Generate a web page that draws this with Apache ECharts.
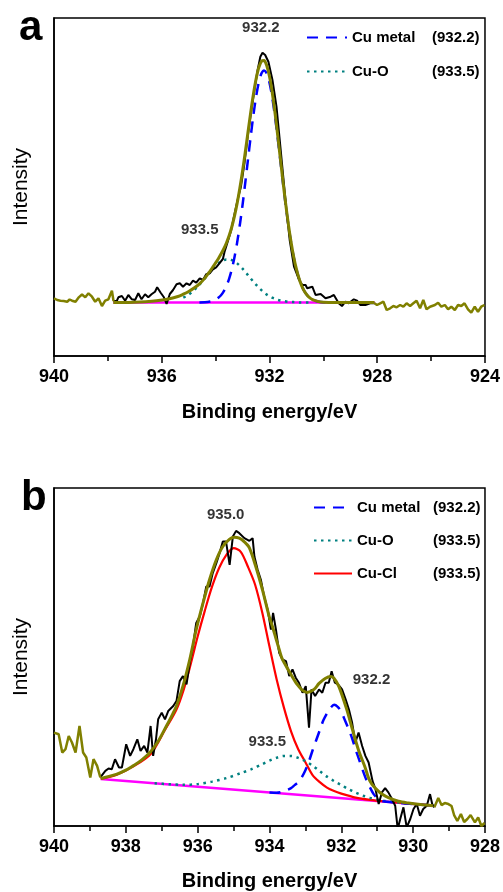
<!DOCTYPE html>
<html>
<head>
<meta charset="utf-8">
<script src="https://cdn.jsdelivr.net/npm/echarts@6/dist/echarts.min.js"></script>
<style>
html,body{margin:0;padding:0;background:#fff;}
#chart{width:503px;height:892px;}
</style>
</head>
<body>
<div id="chart"></div>
<script>
// ---------- Panel a data (binding energy eV, intensity a.u.) ----------
const aTicks = [940, 936, 932, 928, 924];
const aBgLeft = [[940.0,57.7],[939.88,56],[939.76,55.3],[939.64,55],[939.51,54.3],[939.42,56.5],[939.33,55.3],[939.2,54.3],[939.08,58.7],[938.96,61.7],[938.84,58.7],[938.72,62.7],[938.59,59.3],[938.47,54.3],[938.35,57.7],[938.22,50],[938.1,55.3],[937.98,56.7],[937.85,65.3],[937.79,55]];
const aMeasured = [[937.79,55],[937.67,55],[937.61,58.7],[937.48,60],[937.36,55.3],[937.24,61],[937.11,56.7],[936.99,56],[936.87,62.7],[936.75,56.7],[936.62,61.7],[936.5,58.7],[936.38,61.7],[936.25,64.3],[936.17,68.7],[936.04,63.3],[935.92,58.7],[935.82,52],[935.7,62],[935.58,66],[935.45,71.7],[935.33,72.7],[935.21,69.3],[935.08,72.7],[934.96,71],[934.84,75.3],[934.72,73.3],[934.59,77.7],[934.47,76],[934.35,81.7],[934.22,82.7],[934.1,86.7],[933.98,88.7],[933.86,92.7],[933.73,97],[933.67,104],[933.61,102],[933.52,117],[933.42,126],[933.33,138],[933.24,149.3],[933.15,160],[933.06,169.3],[932.93,192.7],[932.81,219.3],[932.69,242.7],[932.56,266],[932.44,286],[932.34,299.3],[932.26,303.3],[932.16,301],[932.04,294.3],[931.89,276],[931.74,249.3],[931.62,216],[931.49,179.3],[931.37,146],[931.25,116],[931.09,89.3],[930.9,76],[930.78,71],[930.66,71],[930.6,67.7],[930.53,67.7],[930.41,69.3],[930.29,61],[930.1,62],[929.92,57.7],[929.73,59.3],[929.61,61],[929.43,52.7],[929.31,50],[929.18,54.3],[929.06,52.7],[928.87,56.7],[928.75,55.3],[928.63,51],[928.44,51],[928.26,52.7],[928.1,52.7]];
const aBgRight = [[928.1,52.7],[928.01,51],[927.89,52.7],[927.77,54.3],[927.65,46],[927.52,47.7],[927.4,50],[927.28,48.7],[927.15,51],[927.03,49.3],[926.91,52.7],[926.78,50],[926.66,52.7],[926.54,55.3],[926.41,47.7],[926.29,56],[926.17,46.7],[926.04,49.3],[925.86,51],[925.74,53.3],[925.62,49.3],[925.49,51],[925.37,46.7],[925.25,49.3],[925.12,46],[925.0,51],[924.88,50],[924.76,52.7],[924.63,46.7],[924.51,43.3],[924.38,49.3],[924.26,44.3],[924.14,49.3],[924.02,51]];
const aEnvelope = [[937.8,53.5],[937.4,53.6],[937.0,53.8],[936.6,54.3],[936.2,55.2],[935.8,56.8],[935.4,59.5],[935.2,61.8],[935.0,64.5],[934.8,68],[934.6,72.2],[934.4,77.9],[934.2,85.2],[934.1,89.1],[934.0,93.1],[933.9,97.3],[933.8,101.9],[933.7,107],[933.6,113],[933.5,120.2],[933.4,129],[933.3,139.8],[933.2,152.7],[933.1,167.9],[933.0,185],[932.9,203.8],[932.8,223.5],[932.7,243.1],[932.6,261.3],[932.5,276.7],[932.4,288.2],[932.3,294.7],[932.2,295.4],[932.1,290.3],[932.0,279.5],[931.9,263.7],[931.8,244.1],[931.7,221.7],[931.6,198.1],[931.5,174.6],[931.4,152.4],[931.3,131.9],[931.2,114.1],[931.1,99],[931.0,86.8],[930.9,77.2],[930.8,69.9],[930.7,64.6],[930.6,60.8],[930.5,58.2],[930.4,56.4],[930.3,55.3],[930.2,54.5],[930.0,53.8],[929.8,53.6],[929.4,53.5],[928.1,53.5]];
const aCuMetal = [[934.6,53.6],[934.4,53.8],[934.2,54.5],[934.1,55.3],[934.0,56.4],[933.9,58.2],[933.8,60.8],[933.7,64.6],[933.6,69.9],[933.5,77.1],[933.4,86.6],[933.3,98.7],[933.2,113.6],[933.1,131.2],[933.0,151.2],[932.9,173.1],[932.8,196.1],[932.7,219],[932.6,240.4],[932.5,258.9],[932.4,273.3],[932.3,282.4],[932.2,285.5],[932.1,282.4],[932.0,273.3],[931.9,258.9],[931.8,240.4],[931.7,219],[931.6,196.1],[931.5,173.1],[931.4,151.2],[931.3,131.2],[931.2,113.6],[931.1,98.7],[931.0,86.6],[930.9,77.1],[930.8,69.9],[930.7,64.6],[930.6,60.8],[930.5,58.2],[930.4,56.4],[930.3,55.3],[930.2,54.5],[930.0,53.8],[929.8,53.6]];
const aCuO = [[935.2,58.3],[935.1,59.7],[935.0,61.4],[934.9,63.4],[934.8,65.8],[934.7,68.4],[934.6,71.3],[934.5,74.4],[934.4,77.6],[934.3,80.9],[934.2,84.2],[934.1,87.3],[934.0,90.2],[933.9,92.6],[933.8,94.6],[933.7,95.9],[933.6,96.6],[933.5,96.6],[933.4,95.9],[933.3,94.6],[933.2,92.6],[933.1,90.2],[933.0,87.3],[932.9,84.2],[932.8,80.9],[932.7,77.6],[932.6,74.4],[932.5,71.3],[932.4,68.4],[932.3,65.8],[932.2,63.4],[932.1,61.4],[932.0,59.7],[931.9,58.3],[931.8,57.2],[931.7,56.2],[931.6,55.5],[931.5,55],[931.3,54.2],[931.1,53.9],[930.9,53.6],[930.5,53.5]];
const aBaseline = [[937.8,53.5],[928.1,53.5]];
const aLegendNames = ['Cu metal', 'Cu-O'];
const aLegendPos = ['(932.2)', '(933.5)'];
const aPeakText = ['932.2', '933.5'];

// ---------- Panel b data ----------
const bTicks = [940, 938, 936, 934, 932, 930, 928];
const bBgLeft = [[940.0,93.7],[939.87,92],[939.77,73.7],[939.68,77],[939.59,90.3],[939.5,83.7],[939.4,73.7],[939.29,100.3],[939.19,73.7],[939.1,68.7],[938.99,48.7],[938.9,67],[938.8,60.3],[938.71,48.7]];
const bMeasured = [[938.71,48.7],[938.57,55.3],[938.48,57.7],[938.39,57],[938.3,67],[938.19,58.7],[938.11,58.7],[937.99,82],[937.88,70.3],[937.79,77],[937.68,87],[937.59,75.3],[937.49,80.3],[937.4,73.7],[937.31,100.3],[937.24,70.3],[937.16,87],[937.1,107],[937.0,113.7],[936.91,107],[936.82,115.3],[936.68,120.3],[936.59,125.3],[936.5,145.3],[936.41,150.3],[936.31,142],[936.22,163.7],[936.13,180.3],[936.04,203.7],[935.94,210.3],[935.85,223.7],[935.76,240.3],[935.67,240.3],[935.58,253.7],[935.48,263.7],[935.39,273.7],[935.3,285.3],[935.21,285.3],[935.11,262],[935.02,290.3],[934.93,296],[934.84,293.7],[934.7,288.7],[934.56,286],[934.47,288.7],[934.42,270.3],[934.33,257],[934.24,247],[934.15,230.3],[934.05,217],[933.96,197],[933.9,213.7],[933.82,197],[933.73,173.7],[933.64,167],[933.54,165.3],[933.45,150.3],[933.36,157],[933.27,148.7],[933.18,143.7],[933.08,133.7],[932.99,140.3],[932.9,98.7],[932.83,137],[932.73,130.3],[932.62,137],[932.53,133.7],[932.44,143.7],[932.35,143.7],[932.27,155.3],[932.18,143.7],[932.09,142],[931.98,137],[931.88,127],[931.79,117],[931.7,103.7],[931.61,83.7],[931.52,93.7],[931.42,80.3],[931.33,70.3],[931.24,63.7],[931.13,45],[931.05,37],[930.96,22],[930.87,33.7],[930.78,38],[930.69,33.7],[930.59,27],[930.5,20.3],[930.43,-3],[930.36,7],[930.27,18.7],[930.18,-1.3],[930.08,7],[929.99,17],[929.9,22],[929.81,10.3],[929.72,17],[929.62,20.3],[929.53,32],[929.47,22],[929.41,18.7]];
const bBgRight = [[929.41,18.7],[929.3,28],[929.21,21],[929.12,23],[929.02,22],[928.93,20],[928.86,11],[928.77,5],[928.67,12],[928.58,4],[928.49,7],[928.4,11],[928.28,3.7],[928.19,8.7],[928.1,0],[928.01,3]];
const bEnvelope = [[938.7,47.5],[938.5,49.5],[938.25,52],[938.0,56],[937.8,60.3],[937.6,65],[937.33,73.7],[937.1,85],[936.87,100.3],[936.7,112],[936.59,120.3],[936.41,140.3],[936.22,167],[936.04,197],[935.85,223.7],[935.67,247],[935.48,267],[935.3,280.3],[935.11,287.7],[934.98,289.7],[934.84,288.7],[934.7,285],[934.56,279],[934.38,260],[934.19,236],[934.01,210.3],[933.92,200.3],[933.82,188],[933.73,177],[933.64,167],[933.45,155],[933.27,144],[933.18,140],[933.08,136],[932.95,134],[932.76,137],[932.62,143],[932.45,148],[932.3,150],[932.21,148.5],[932.07,140],[931.85,117],[931.7,98],[931.52,76],[931.33,58],[931.24,48],[931.15,42],[931.0,36],[930.87,32],[930.69,28.5],[930.41,24.8],[930.13,23],[929.8,21.5],[929.45,20.3]];
const bCuCl = [[938.7,47.2],[938.25,51.5],[937.8,59.5],[937.3,72.5],[936.9,97],[936.6,116],[936.4,135.5],[936.2,161.5],[936.0,190],[935.8,216],[935.6,240],[935.4,259],[935.2,272],[935.0,278.7],[934.8,275],[934.6,260],[934.4,242],[934.2,214],[934.0,180],[933.8,147],[933.6,119],[933.4,95],[933.2,77],[933.0,64],[932.8,51],[932.6,44],[932.4,38.5],[932.2,35],[932.0,32.5],[931.6,28.5],[931.2,26.2],[930.8,24.6],[930.4,23.3],[930.0,22.1],[929.45,20.5]];
const bCuO = [[937.2,42.9],[936.8,41.9],[936.4,41.3],[936.0,42],[935.6,44.5],[935.2,48],[934.8,53],[934.5,57],[934.2,62],[934.0,65.5],[933.8,68.5],[933.6,70.3],[933.4,70.3],[933.2,68.3],[933.0,65],[932.8,60.5],[932.6,55],[932.4,49.5],[932.2,45],[932.0,41],[931.8,37],[931.6,33.5],[931.4,30.5],[931.2,28.2],[931.0,26.5],[930.8,25.2],[930.4,23.6],[930.0,22.2],[929.45,20.5]];
const bCuMetal = [[934.0,33.6],[933.8,33.3],[933.6,34.8],[933.4,38],[933.3,41],[933.2,44],[933.1,49],[933.0,56],[932.9,65],[932.8,76],[932.7,86],[932.6,96],[932.5,106],[932.4,113],[932.3,118.5],[932.2,121.5],[932.1,119.5],[932.0,114.5],[931.9,106],[931.8,97.5],[931.7,88],[931.6,76.5],[931.5,66],[931.4,55.5],[931.3,46],[931.2,38.5],[931.1,32],[931.0,28],[930.9,25.5],[930.8,24.5],[930.6,23.8],[930.4,23.2],[930.0,22.1],[929.45,20.5]];
const bBaseline = [[938.7,47.2],[929.45,20.5]];
const bLegendNames = ['Cu metal', 'Cu-O', 'Cu-Cl'];
const bLegendPos = ['(932.2)', '(933.5)', '(933.5)'];
const bPeakText = ['935.0', '932.2', '933.5'];

// ---------- annotation anchors (data units) ----------
const aPeakAnchor = [[932.32, 328], [934.59, 126]];
const bPeakAnchor = [[935.22, 312], [931.16, 147], [934.06, 84]];

const FONT = '"Liberation Sans", Arial, Helvetica, sans-serif';
const OLIVE = '#808000', BLUE = '#0000ff', TEAL = '#008080', RED = '#ff0000', MAG = '#ff00ff';

function lineS(name, data, gi, color, width, type, z, smooth) {
  return {
    type: 'line', name: name, data: data, xAxisIndex: gi, yAxisIndex: gi,
    symbol: 'none', showSymbol: false, smooth: smooth ? 0.3 : false,
    lineStyle: { color: color, width: width, type: type, cap: 'butt' },
    itemStyle: { color: color }, z: z, silent: true, animation: false
  };
}
function notes(texts, anchors, gi) {
  return {
    type: 'scatter', xAxisIndex: gi, yAxisIndex: gi, symbolSize: 1, z: 20, silent: true,
    itemStyle: { color: 'rgba(0,0,0,0)' },
    data: texts.map((t, i) => ({ value: anchors[i], name: t })),
    label: { show: true, position: 'inside', formatter: p => p.name,
      color: '#000', fontFamily: FONT, fontWeight: 'bold', fontSize: 15 }
  };
}
function xAx(gi, min, max, interval, gap) {
  return {
    type: 'value', gridIndex: gi, inverse: true, min: min, max: max, interval: interval,
    name: 'Binding energy/eV', nameLocation: 'middle', nameGap: gap,
    nameTextStyle: { fontFamily: FONT, fontWeight: 'bold', fontSize: 20, color: '#000' },
    axisLine: { show: true, lineStyle: { color: '#000', width: 1.5 } },
    axisTick: { show: true, length: 7, lineStyle: { color: '#000', width: 1.5 } },
    minorTick: { show: true, splitNumber: 2, length: 5, lineStyle: { color: '#000', width: 1.5 } },
    axisLabel: { margin: 12, fontFamily: FONT, fontWeight: 'bold', fontSize: 18, color: '#000' },
    splitLine: { show: false }, minorSplitLine: { show: false }
  };
}
function yAx(gi, max) {
  return {
    type: 'value', gridIndex: gi, min: 0, max: max,
    name: 'Intensity', nameLocation: 'middle', nameGap: 22,
    nameTextStyle: { fontFamily: FONT, fontSize: 21, color: '#000' },
    axisLine: { show: true, lineStyle: { color: '#000', width: 1.5 } },
    axisTick: { show: false }, axisLabel: { show: false }, splitLine: { show: false }
  };
}
function legendOf(names, pos, left, top, gap, iw, aw) {
  const map = {}; names.forEach((n, i) => map[n] = pos[i]);
  return {
    data: names, orient: 'vertical', left: left, top: top, itemGap: gap,
    itemWidth: iw, itemHeight: 14, selectedMode: false,
    itemStyle: { color: 'rgba(0,0,0,0)', borderWidth: 0, opacity: 0 },
    formatter: n => '{a|' + n + '}{b|' + map[n] + '}',
    textStyle: { rich: {
      a: { width: aw, fontFamily: FONT, fontWeight: 'bold', fontSize: 15, color: '#000' },
      b: { fontFamily: FONT, fontWeight: 'bold', fontSize: 15, color: '#000' }
    } }
  };
}

const chart = echarts.init(document.getElementById('chart'), null, { renderer: 'canvas' });
chart.setOption({
  animation: false,
  backgroundColor: '#fff',
  grid: [
    { left: 54, right: 16, top: 18, height: 338, show: true, borderColor: '#000', borderWidth: 1.5, backgroundColor: 'transparent' },
    { left: 54, right: 16, top: 488, height: 339, show: true, borderColor: '#000', borderWidth: 1.5, backgroundColor: 'transparent' }
  ],
  xAxis: [xAx(0, aTicks[aTicks.length - 1], aTicks[0], 4, 46), xAx(1, bTicks[bTicks.length - 1], bTicks[0], 2, 45)],
  yAxis: [yAx(0, 338), yAx(1, 339)],
  legend: [legendOf(aLegendNames, aLegendPos, 301, 25, 19, 40, 80), legendOf(bLegendNames, bLegendPos, 308, 495, 18, 38, 76)],
  graphic: [
    { type: 'text', left: 19, top: 7, style: { text: 'a', font: 'bold 42px ' + FONT, fill: '#000' } },
    { type: 'text', left: 21, top: 477, style: { text: 'b', font: 'bold 42px ' + FONT, fill: '#000' } }
  ],
  series: [
    lineS('a-base', aBaseline, 0, MAG, 2.5, 'solid', 2, false),
    lineS('Cu-O', aCuO, 0, TEAL, 2.5, [2.5, 4.5], 3, true),
    lineS('Cu metal', aCuMetal, 0, BLUE, 2.5, [11, 8], 4, true),
    lineS('a-data', aMeasured, 0, '#000', 2, 'solid', 5, false),
    lineS('a-bgL', aBgLeft, 0, OLIVE, 2.5, 'solid', 5, false),
    lineS('a-bgR', aBgRight, 0, OLIVE, 2.5, 'solid', 5, false),
    lineS('a-env', aEnvelope, 0, OLIVE, 3, 'solid', 6, true),
    notes(aPeakText, aPeakAnchor, 0),

    lineS('b-base', bBaseline, 1, MAG, 2.5, 'solid', 2, false),
    lineS('Cu-Cl', bCuCl, 1, RED, 2.2, 'solid', 3, true),
    lineS('Cu-O', bCuO, 1, TEAL, 2.5, [2.5, 4.5], 3, true),
    lineS('Cu metal', bCuMetal, 1, BLUE, 2.5, [11, 8], 4, true),
    lineS('b-data', bMeasured, 1, '#000', 2, 'solid', 5, false),
    lineS('b-bgL', bBgLeft, 1, OLIVE, 2.5, 'solid', 5, false),
    lineS('b-bgR', bBgRight, 1, OLIVE, 2.5, 'solid', 5, false),
    lineS('b-env', bEnvelope, 1, OLIVE, 3, 'solid', 6, true),
    notes(bPeakText, bPeakAnchor, 1)
  ]
});
</script>
</body>
</html>
